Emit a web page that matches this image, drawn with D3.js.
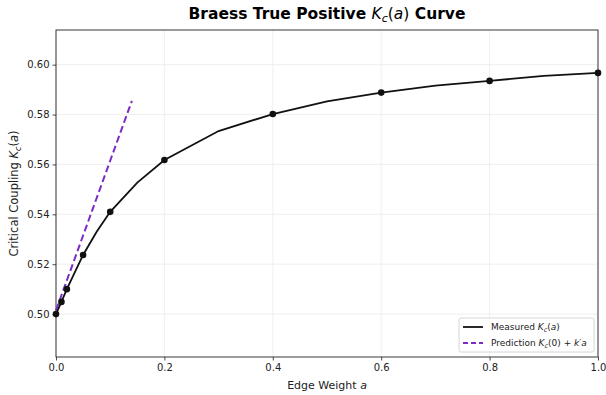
<!DOCTYPE html>
<html>
<head>
<meta charset="utf-8">
<script src="https://cdn.jsdelivr.net/npm/d3@7"></script>
<style>
  body { margin: 0; background: #fff; }
  text { font-family: "DejaVu Sans", sans-serif; }
</style>
</head>
<body>
<div id="chart"></div>
<script>
// Data
var edgeWeights = [0, 0.01, 0.02, 0.05, 0.075, 0.1, 0.15, 0.2, 0.3, 0.4, 0.5, 0.6, 0.7, 0.8, 0.9, 1.0];
var measuredKc = [0.5000, 0.5049, 0.5100, 0.5237, 0.5330, 0.5410, 0.5527, 0.5618, 0.5734, 0.5802, 0.5853, 0.5888, 0.5916, 0.5935, 0.5955, 0.5967];
var markerWeights = [0, 0.01, 0.02, 0.05, 0.1, 0.2, 0.4, 0.6, 0.8, 1.0];
var predictionA = [0, 0.14];
var predictionKc = [0.5015, 0.5855];
var xTicks = [0, 0.2, 0.4, 0.6, 0.8, 1.0];
var yTicks = [0.50, 0.52, 0.54, 0.56, 0.58, 0.60];

var svgWidth = 606;
var svgHeight = 395;

var margin = {
  top: 30,
  right: 8,
  bottom: 38,
  left: 56
};

var width = svgWidth - margin.left - margin.right;
var height = svgHeight - margin.top - margin.bottom;

var purple = "#7b2cc4";

var svg = d3.select("#chart")
  .append("svg")
  .attr("width", svgWidth)
  .attr("height", svgHeight);

var chartGroup = svg.append("g")
  .attr("transform", `translate(${margin.left}, ${margin.top})`);

// Scales
var xScale = d3.scaleLinear()
  .domain([0, 1])
  .range([0, width]);

var yScale = d3.scaleLinear()
  .domain([0.4828, 0.6139])
  .range([height, 0]);

// Grid
chartGroup.append("g")
  .selectAll("line")
  .data(xTicks)
  .enter()
  .append("line")
  .attr("x1", d => xScale(d))
  .attr("x2", d => xScale(d))
  .attr("y1", 0)
  .attr("y2", height)
  .attr("stroke", "#ebebeb")
  .attr("stroke-width", 0.8);

chartGroup.append("g")
  .selectAll("line")
  .data(yTicks)
  .enter()
  .append("line")
  .attr("x1", 0)
  .attr("x2", width)
  .attr("y1", d => yScale(d))
  .attr("y2", d => yScale(d))
  .attr("stroke", "#ebebeb")
  .attr("stroke-width", 0.8);

// Axes
var xAxis = d3.axisBottom(xScale)
  .tickValues(xTicks)
  .tickFormat(d3.format(".1f"))
  .tickSizeOuter(0)
  .tickSize(3.5)
  .tickPadding(3);

var yAxis = d3.axisLeft(yScale)
  .tickValues(yTicks)
  .tickFormat(d3.format(".2f"))
  .tickSizeOuter(0)
  .tickSize(3.5)
  .tickPadding(3);

var gx = chartGroup.append("g")
  .attr("transform", `translate(0, ${height})`)
  .call(xAxis);

var gy = chartGroup.append("g")
  .call(yAxis);

[gx, gy].forEach(function (g) {
  g.select(".domain").remove();
  g.selectAll("line").attr("stroke", "#222").attr("stroke-width", 0.8);
  g.selectAll("text")
    .attr("font-family", "DejaVu Sans")
    .attr("font-size", 10)
    .attr("fill", "#222");
});

// Spines
chartGroup.append("rect")
  .attr("x", 0)
  .attr("y", 0)
  .attr("width", width)
  .attr("height", height)
  .attr("fill", "none")
  .attr("stroke", "#222")
  .attr("stroke-width", 0.9);

// Prediction line
var predLine = d3.line()
  .x((d, i) => xScale(predictionA[i]))
  .y(d => yScale(d));

chartGroup.append("path")
  .datum(predictionKc)
  .attr("d", predLine)
  .attr("fill", "none")
  .attr("stroke", purple)
  .attr("stroke-width", 2)
  .attr("stroke-dasharray", "7,3.5");

// Measured curve
var measuredLine = d3.line()
  .x((d, i) => xScale(edgeWeights[i]))
  .y(d => yScale(d));

chartGroup.append("path")
  .datum(measuredKc)
  .attr("d", measuredLine)
  .attr("fill", "none")
  .attr("stroke", "#111")
  .attr("stroke-width", 1.8);

var markerData = markerWeights.map(function (a) {
  return { a: a, k: measuredKc[edgeWeights.indexOf(a)] };
});

chartGroup.selectAll("circle")
  .data(markerData)
  .enter()
  .append("circle")
  .attr("cx", d => xScale(d.a))
  .attr("cy", d => yScale(d.k))
  .attr("r", 3.3)
  .attr("fill", "#111");

// Title and labels
var title = svg.append("text")
  .attr("x", margin.left + width / 2)
  .attr("y", 19)
  .attr("text-anchor", "middle")
  .attr("font-size", 15.5)
  .attr("font-weight", "bold")
  .attr("fill", "#000");
title.append("tspan").text("Braess True Positive ");
title.append("tspan").attr("font-style", "italic").attr("font-weight", "normal").text("K");
title.append("tspan").attr("font-style", "italic").attr("font-weight", "normal")
  .attr("font-size", 11).attr("dy", 3).text("c");
title.append("tspan").attr("font-weight", "normal").attr("dy", -3).text("(");
title.append("tspan").attr("font-style", "italic").attr("font-weight", "normal").text("a");
title.append("tspan").attr("font-weight", "normal").text(")");
title.append("tspan").text(" Curve");

var xLabel = svg.append("text")
  .attr("x", margin.left + width / 2)
  .attr("y", 389)
  .attr("text-anchor", "middle")
  .attr("font-size", 11)
  .attr("fill", "#222");
xLabel.append("tspan").text("Edge Weight ");
xLabel.append("tspan").attr("font-style", "italic").text("a");

var yLabel = svg.append("text")
  .attr("transform", `translate(18, ${margin.top + height / 2}) rotate(-90)`)
  .attr("text-anchor", "middle")
  .attr("font-size", 11.5)
  .attr("fill", "#222");
yLabel.append("tspan").text("Critical Coupling ");
yLabel.append("tspan").attr("font-style", "italic").text("K");
yLabel.append("tspan").attr("font-style", "italic").attr("font-size", 8).attr("dy", 2.5).text("c");
yLabel.append("tspan").attr("dy", -2.5).text("(");
yLabel.append("tspan").attr("font-style", "italic").text("a");
yLabel.append("tspan").text(")");

// Legend
var legend = svg.append("g")
  .attr("transform", "translate(459, 318)");

legend.append("rect")
  .attr("width", 135)
  .attr("height", 34)
  .attr("rx", 2)
  .attr("fill", "#fff")
  .attr("fill-opacity", 0.85)
  .attr("stroke", "#ccc")
  .attr("stroke-width", 0.8);

var legendItems = [
  { color: "#111", dash: null, parts: [["Measured ", ""], ["K", "i"], ["c", "s"], ["(", ""], ["a", "i"], [")", ""]] },
  { color: purple, dash: "5,3", parts: [["Prediction ", ""], ["K", "i"], ["c", "s"], ["(0) + ", ""], ["k", "i"], ["\u2032", ""], ["a", "i"]] }
];

legendItems.forEach(function (item, i) {
  var y = 9 + i * 16;
  legend.append("line")
    .attr("x1", 4)
    .attr("x2", 24)
    .attr("y1", y)
    .attr("y2", y)
    .attr("stroke", item.color)
    .attr("stroke-width", 1.8)
    .attr("stroke-dasharray", item.dash);
  var t = legend.append("text")
    .attr("x", 32)
    .attr("y", y + 3.2)
    .attr("font-size", 9)
    .attr("fill", "#222");
  var shifted = false;
  item.parts.forEach(function (p) {
    var s = t.append("tspan").text(p[0]);
    if (p[1] === "i") s.attr("font-style", "italic");
    if (p[1] === "s") {
      s.attr("font-style", "italic").attr("font-size", 6.5).attr("dy", 2);
      shifted = true;
    } else if (shifted) {
      s.attr("dy", -2);
      shifted = false;
    }
  });
});
</script>
</body>
</html>
